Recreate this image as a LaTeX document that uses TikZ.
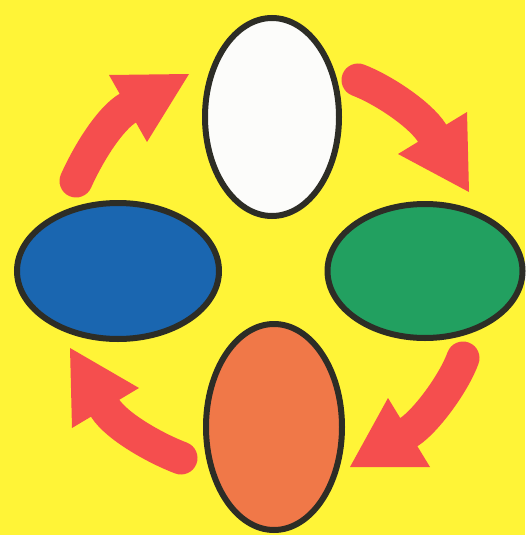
\documentclass[tikz,border=0pt]{standalone}
\usetikzlibrary{shapes.geometric}
\definecolor{bgyellow}{RGB}{255,244,55}
\definecolor{arrowred}{RGB}{245,78,78}
\definecolor{outl}{RGB}{45,45,38}
\definecolor{eggwhite}{RGB}{252,252,250}
\definecolor{eggblue}{RGB}{26,102,176}
\definecolor{egggreen}{RGB}{34,160,96}
\definecolor{eggorange}{RGB}{240,120,72}
\tikzset{
  egg/.style={ellipse, draw=outl, line width=6pt, inner sep=0pt},
  shaft/.style={draw=arrowred, line width=33pt, line cap=round},
  head/.style={fill=arrowred}
}
\begin{document}
\begin{tikzpicture}[x=1pt,y=-1pt]
\fill[bgyellow] (0,0) rectangle (525,535);
\useasboundingbox (0,0) rectangle (525,535);

% arrows
\coordinate (tlTail) at (76,181);  \coordinate (tlBase) at (128,108);
\coordinate (trTail) at (358,80);  \coordinate (trBase) at (432,133);
\coordinate (brTail) at (463,358); \coordinate (brBase) at (409,432);
\coordinate (blTail) at (181,458); \coordinate (blBase) at (105,408);

\draw[shaft] (tlTail) .. controls (90,150) and (111,118) .. (tlBase);
\fill[head] (109,75) -- (189,74) -- (147,142) -- cycle;

\draw[shaft] (trTail) .. controls (382,89) and (420,114) .. (trBase);
\fill[head] (467,112) -- (469,192) -- (398,154) -- cycle;

\draw[shaft] (brTail) .. controls (454,383) and (426,421) .. (brBase);
\fill[head] (388,398) -- (430,467) -- (350,467) -- cycle;

\draw[shaft] (blTail) .. controls (157,449) and (117,427) .. (blBase);
\fill[head] (72,428) -- (70,348) -- (139,388) -- cycle;

% eggs
\node[egg, fill=eggwhite, minimum width=134pt, minimum height=198pt] (white) at (272,117) {};
\node[egg, fill=eggblue, minimum width=202pt, minimum height=136pt] (blue) at (118,271) {};
\node[egg, fill=egggreen, minimum width=195pt, minimum height=134pt] (green) at (425,271) {};
\node[egg, fill=eggorange, minimum width=136pt, minimum height=206pt] (orange) at (274,427) {};
\end{tikzpicture}
\end{document}
